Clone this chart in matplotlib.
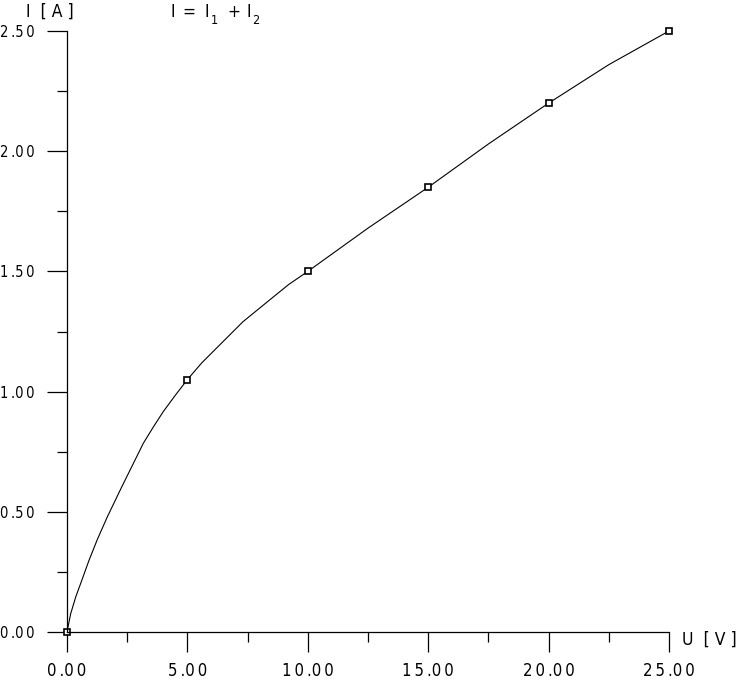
import numpy as np
import matplotlib
matplotlib.use('Agg')
import matplotlib.pyplot as plt

plt.rcParams['font.family'] = ['DejaVu Sans']
plt.rcParams['font.stretch'] = 'condensed'

# measured points  U [V] , I [A]
u_meas = [0, 5, 10, 15, 20, 25]
i_meas = [0, 1.05, 1.50, 1.85, 2.20, 2.50]

# smooth curve
curve_u = [0, 0.15, 0.36, 0.64, 0.91, 1.26, 1.67, 2.28, 2.75, 3.17, 3.58, 4.0, 4.5, 5.0,
           5.6, 6.2, 6.8, 7.3, 8.4, 9.2, 10, 12.5, 15, 17.5, 20, 22.5, 25]
curve_i = [0, 0.075, 0.145, 0.222, 0.297, 0.385, 0.478, 0.605, 0.70, 0.785, 0.852, 0.917, 0.985, 1.05,
           1.12, 1.18, 1.24, 1.29, 1.38, 1.445, 1.50, 1.68, 1.85, 2.03, 2.20, 2.36, 2.50]

x_major = [0, 5, 10, 15, 20, 25]
x_minor = [2.5, 7.5, 12.5, 17.5, 22.5]
y_major = [0, 0.5, 1.0, 1.5, 2.0, 2.5]
y_minor = [0.25, 0.75, 1.25, 1.75, 2.25]

TS = '\u2009'  # thin space


def spaced(v):
    # plotter style label: "0 .0 0"
    s = '%.2f' % v
    return TS.join(s).replace('.' + TS, '.')


W, H = 736, 687
fig = plt.figure(figsize=(W / 100, H / 100), dpi=100)
ax = fig.add_axes([67 / W, 55 / H, 602 / W, 601 / H])

ax.plot(curve_u, curve_i, color='black', lw=0.8, clip_on=False)
ax.plot(u_meas, i_meas, ls='none', marker='s', ms=4.5, mfc='white',
        mec='black', mew=1.2, clip_on=False)

ax.set_xlim(0, 25)
ax.set_ylim(0, 2.5)
for s in ['top', 'right']:
    ax.spines[s].set_visible(False)
for s in ['left', 'bottom']:
    ax.spines[s].set_linewidth(0.9)

ax.set_xticks(x_major)
ax.set_xticklabels([spaced(v) for v in x_major], fontsize=12)
ax.set_xticks(x_minor, minor=True)
ax.set_yticks(y_major)
ax.set_yticklabels([spaced(v) for v in y_major], fontsize=10.5)
ax.set_yticks(y_minor, minor=True)

ax.tick_params(which='major', length=14.4, width=0.9, direction='out')
ax.tick_params(which='minor', length=7.2, width=0.9, direction='out')
ax.tick_params(axis='x', which='major', pad=7)
ax.tick_params(axis='y', which='major', pad=9)

# axis names and formula
fs = 12.5
fig.text(50 / W, 1 - 12 / H, 'I  [ A ]', ha='center', va='center', fontsize=fs)
fig.text(682 / W, 1 - 640 / H, 'U  [ V ]', ha='left', va='center', fontsize=fs)
# I = I1 + I2, subscripts as separate small texts
fig.text(170 / W, 1 - 12 / H, 'I', ha='left', va='center', fontsize=fs)
fig.text(182 / W, 1 - 12 / H, '=', ha='left', va='center', fontsize=fs)
fig.text(205 / W, 1 - 12 / H, 'I', ha='left', va='center', fontsize=fs)
fig.text(211 / W, 1 - 21 / H, '1', ha='left', va='center', fontsize=9)
fig.text(227 / W, 1 - 12 / H, '+', ha='left', va='center', fontsize=fs)
fig.text(246 / W, 1 - 12 / H, 'I', ha='left', va='center', fontsize=fs)
fig.text(252 / W, 1 - 21 / H, '2', ha='left', va='center', fontsize=9)

fig.savefig('out.png', dpi=100)
